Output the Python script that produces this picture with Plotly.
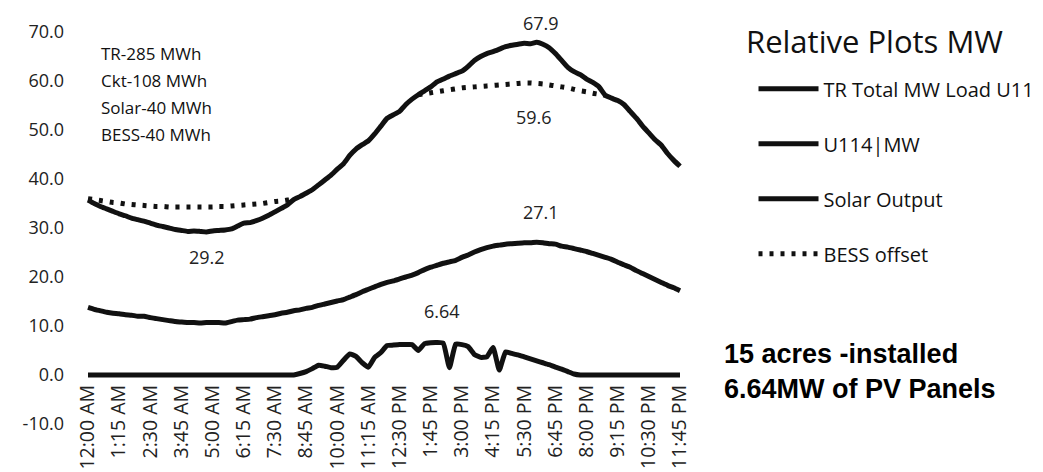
import plotly.graph_objects as go

# 15-minute categories, 12:00 AM .. 11:45 PM
times = []
for h in range(24):
    for m in (0, 15, 30, 45):
        hh = h % 12 or 12
        times.append(f"{hh}:{m:02d} {'AM' if h < 12 else 'PM'}")

tick_labels = times[::5]
y_ticks = [-10, 0, 10, 20, 30, 40, 50, 60, 70]
y_tick_text = ["-10.0", "0.0", "10.0", "20.0", "30.0", "40.0", "50.0", "60.0", "70.0"]

tr_total = [
    35.7, 35.0, 34.4, 33.9, 33.4, 32.9, 32.5, 32.0, 31.7, 31.4,
    31.0, 30.6, 30.3, 30.0, 29.7, 29.5, 29.3, 29.4, 29.3, 29.2,
    29.4, 29.5, 29.6, 29.8, 30.4, 31.0, 31.1, 31.5, 32.0, 32.6,
    33.3, 34.0, 34.7, 35.8, 36.4, 37.1, 37.8, 38.8, 39.8, 40.8,
    42.0, 43.1, 44.8, 46.1, 47.0, 47.8, 49.2, 50.8, 52.4, 53.1,
    53.8, 55.2, 56.3, 57.2, 58.0, 58.8, 59.8, 60.4, 61.0, 61.5,
    62.0, 63.0, 64.2, 65.0, 65.6, 66.0, 66.5, 67.0, 67.3, 67.5,
    67.7, 67.6, 67.9, 67.5, 66.8, 65.6, 64.2, 62.8, 61.9, 61.3,
    60.4, 59.7, 58.8, 57.1, 56.5, 56.0, 55.2, 53.8, 52.4, 50.8,
    49.4, 48.0, 46.9, 45.2, 43.8, 42.6,
]

u114 = [
    13.8, 13.4, 13.1, 12.8, 12.6, 12.5, 12.3, 12.2, 12.0, 12.0,
    11.7, 11.5, 11.3, 11.1, 10.9, 10.8, 10.7, 10.7, 10.6, 10.7,
    10.7, 10.7, 10.6, 10.9, 11.2, 11.3, 11.4, 11.7, 11.9, 12.1,
    12.3, 12.6, 12.8, 13.1, 13.3, 13.6, 13.8, 14.2, 14.5, 14.8,
    15.1, 15.4, 15.9, 16.4, 17.0, 17.5, 18.0, 18.5, 18.9, 19.2,
    19.6, 20.0, 20.4, 20.9, 21.5, 22.0, 22.4, 22.8, 23.1, 23.4,
    24.0, 24.5, 25.1, 25.6, 26.0, 26.3, 26.5, 26.7, 26.8, 26.9,
    27.0, 27.0, 27.1, 27.0, 26.8, 26.7, 26.3, 26.1, 25.8, 25.5,
    25.2, 24.8, 24.4, 24.0, 23.6, 23.0, 22.5, 22.0, 21.3, 20.7,
    20.1, 19.5, 18.9, 18.3, 17.8, 17.2,
]

solar = (
    [0.0] * 34
    + [0.3, 0.7, 1.3, 2.0, 1.8, 1.5, 1.6, 3.0, 4.3, 3.8,
       2.5, 1.6, 3.6, 4.6, 6.0, 6.1, 6.2, 6.2, 6.2, 5.0,
       6.4, 6.6, 6.64, 6.5, 1.5, 6.3, 6.2, 5.8, 4.2, 3.6,
       3.7, 5.6, 1.0, 4.7, 4.4, 4.1, 3.7, 3.3, 2.9, 2.5,
       2.1, 1.6, 1.2, 0.7, 0.2]
    + [0.0] * 17
)

bess_night = [
    36.0, 35.8, 35.6, 35.4, 35.2, 35.1, 34.9, 34.8, 34.7, 34.6,
    34.5, 34.4, 34.4, 34.3, 34.3, 34.3, 34.3, 34.3, 34.3, 34.3,
    34.3, 34.4, 34.4, 34.5, 34.6, 34.7, 34.8, 34.9, 35.0, 35.2,
    35.4, 35.5, 35.7, 35.8,
]
bess_evening = [
    57.2, 57.4, 57.6, 57.8, 58.0, 58.2, 58.4, 58.6, 58.7, 58.8,
    58.9, 59.0, 59.1, 59.2, 59.3, 59.4, 59.5, 59.6, 59.6, 59.5,
    59.4, 59.2, 59.0, 58.8, 58.6, 58.3, 58.0, 57.8, 57.5, 57.3,
    57.1,
]
bess = bess_night + [None] * 19 + bess_evening + [None] * 12

series_names = ["TR Total MW Load U11", "U114|MW", "Solar Output", "BESS offset"]
info_lines = ["TR-285 MWh", "Ckt-108 MWh", "Solar-40 MWh", "BESS-40 MWh"]
title_text = "Relative Plots MW"
note_lines = ["15 acres -installed", "6.64MW of PV Panels"]

FONT = "Open Sans"
INK = "#111111"

fig = go.Figure()
for i, (name, vals) in enumerate(zip(series_names, [tr_total, u114, solar, bess])):
    dotted = name == "BESS offset"
    fig.add_trace(go.Scatter(
        x=times, y=vals, name=name, mode="lines",
        legendgroup=f"g{i}",
        line=dict(color=INK, width=5,
                  dash="4px,7px" if dotted else "solid",
                  shape="spline", smoothing=0.4),
        connectgaps=False,
    ))

# data labels
label_specs = [
    (times[72], tr_total[72], "67.9", 4, 19),
    (times[71], bess[71], "59.6", 4, -34),
    (times[72], u114[72], "27.1", 4, 30),
    (times[19], tr_total[19], "29.2", 1, -25),
    (times[56], solar[56], "6.64", 5, 31),
]
for x, y, t, xs, ys in label_specs:
    fig.add_annotation(x=x, y=y, xref="x", yref="y", text=t, showarrow=False,
                       xshift=xs, yshift=ys,
                       font=dict(family=FONT, size=18, color="#222"))

# info text block
for k, line in enumerate(info_lines):
    fig.add_annotation(x=(91 - 62) / 618, y=(416 - (45 + 27.3 * k)) / 392,
                       xref="paper", yref="paper",
                       text=line, showarrow=False, xanchor="left", yanchor="middle",
                       font=dict(family=FONT, size=17, color="#111"))

fig.add_annotation(x=(866 - 62) / 618, y=(416 - 33) / 392, xref="paper", yref="paper",
                   text=title_text, showarrow=False, xanchor="center", yanchor="middle",
                   font=dict(family=FONT, size=31, color="#111"))

fig.add_annotation(x=(714 - 62) / 618, y=(416 - 363) / 392, xref="paper", yref="paper",
                   text="<br>".join(f"<b>{s}</b>" for s in note_lines),
                   showarrow=False, xanchor="left", yanchor="middle", align="left",
                   font=dict(family="Liberation Sans", size=27, color="#000"))

fig.update_layout(
    width=1043, height=472,
    margin=dict(l=62, r=363, t=24, b=56, autoexpand=False),
    paper_bgcolor="white", plot_bgcolor="white",
    showlegend=True,
    legend=dict(x=1.106, y=0.905, xanchor="left", yanchor="top",
                font=dict(family=FONT, size=20, color="#111"),
                tracegroupgap=26, bgcolor="rgba(0,0,0,0)",
                itemwidth=60),
    xaxis=dict(type="category", categoryorder="array", categoryarray=times,
               range=[-2.89, 96.28], anchor="free", position=10 / 80,
               tickmode="array", tickvals=tick_labels, ticktext=tick_labels,
               tickangle=-90, showgrid=False, zeroline=False, showline=False,
               ticks="", ticklabelstandoff=5, automargin=False,
               tickfont=dict(family=FONT, size=19.5, color="#222")),
    yaxis=dict(range=[-10, 70], tickmode="array", tickvals=y_ticks, ticktext=y_tick_text,
               showgrid=False, zeroline=False, showline=False,
               ticks="", automargin=False, ticklabelstandoff=5,
               tickfont=dict(family=FONT, size=18, color="#222")),
)

fig.write_html("out.html")
